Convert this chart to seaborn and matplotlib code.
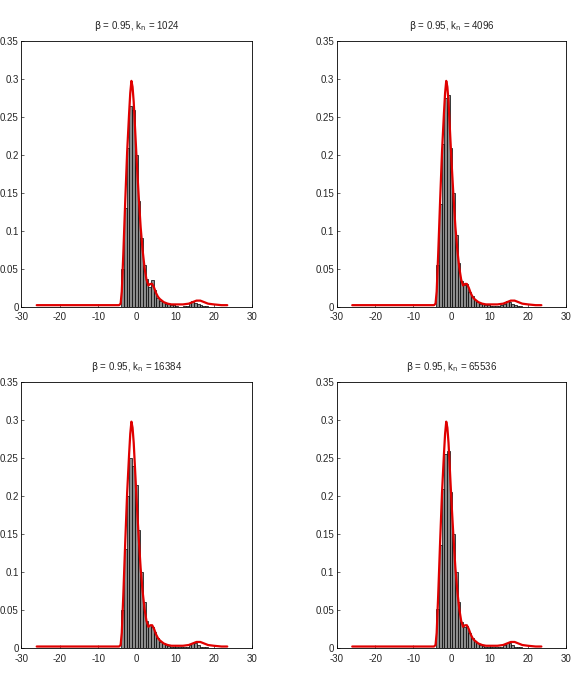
import numpy as np
import seaborn as sns
from matplotlib import pyplot as plt
from matplotlib.ticker import FormatStrFormatter, MultipleLocator

# Panel titles (k_n values)
k_values = [1024, 4096, 16384, 65536]

# Histogram bin centres (bin width 0.7)
bin_width = 0.7
centers = [-3.65, -2.95, -2.25, -1.55, -0.85, -0.15, 0.55, 1.25, 1.95, 2.65,
           3.35, 4.05, 4.75, 5.45, 6.15, 6.85, 7.55, 8.25, 8.95, 9.65,
           10.35, 11.05, 11.75, 12.45, 13.15, 13.85, 14.55, 15.25, 15.95, 16.65,
           17.35, 18.05, 18.75, 19.45]

# Bar heights
hist_1024 = [0.05, 0.13, 0.21, 0.265, 0.26, 0.20, 0.14, 0.09, 0.055, 0.036,
             0.026, 0.035, 0.022, 0.012, 0.008, 0.006, 0.004, 0.003, 0.002, 0.002,
             0.001, 0.0, 0.0, 0.001, 0.001, 0.005, 0.007, 0.005, 0.003, 0.002,
             0.001, 0.001, 0.0, 0.0]
hist_4096 = [0.055, 0.135, 0.215, 0.275, 0.28, 0.21, 0.15, 0.095, 0.058, 0.034,
             0.028, 0.03, 0.02, 0.014, 0.009, 0.006, 0.004, 0.003, 0.002, 0.002,
             0.001, 0.001, 0.001, 0.001, 0.002, 0.004, 0.007, 0.006, 0.004, 0.002,
             0.001, 0.001, 0.0, 0.0]
hist_16384 = [0.05, 0.13, 0.20, 0.25, 0.24, 0.215, 0.155, 0.10, 0.06, 0.035,
              0.03, 0.028, 0.021, 0.013, 0.008, 0.006, 0.004, 0.003, 0.002, 0.002,
              0.001, 0.001, 0.001, 0.001, 0.002, 0.004, 0.007, 0.006, 0.004, 0.002,
              0.001, 0.001, 0.0, 0.0]
hist_65536 = [0.052, 0.135, 0.21, 0.255, 0.26, 0.205, 0.15, 0.10, 0.06, 0.034,
              0.028, 0.029, 0.02, 0.013, 0.009, 0.006, 0.004, 0.003, 0.002, 0.002,
              0.001, 0.001, 0.001, 0.001, 0.002, 0.004, 0.007, 0.006, 0.004, 0.002,
              0.001, 0.001, 0.0, 0.0]
hist_values = [hist_1024, hist_4096, hist_16384, hist_65536]

# Red density curve (same in every panel)
curve_x = [-26, -20, -15, -10, -6, -4.6, -4.2, -3.9, -3.5, -3, -2.5, -2, -1.7, -1.4,
           -1.1, -0.8, -0.5, 0, 0.5, 1, 1.5, 2, 2.5, 3, 3.5, 4, 4.5, 5, 5.5,
           6, 7, 8, 9, 10, 12, 13.5, 14.5, 15.5, 16.5, 17.5, 18.5, 20, 22, 23.5]
curve_y = [0.002, 0.002, 0.002, 0.002, 0.002, 0.002, 0.004, 0.02, 0.07, 0.14, 0.205, 0.255, 0.282, 0.298,
           0.29, 0.27, 0.24, 0.19, 0.145, 0.105, 0.075, 0.052, 0.036, 0.028, 0.03, 0.03, 0.025, 0.018, 0.013,
           0.01, 0.006, 0.004, 0.003, 0.003, 0.003, 0.004, 0.006, 0.008, 0.008, 0.006, 0.004, 0.003, 0.002, 0.002]

sns.set_style('ticks')
plt.rcParams['font.family'] = ['Liberation Sans Narrow', 'Liberation Sans', 'DejaVu Sans']
plt.rcParams['font.size'] = 7
plt.rcParams['xtick.direction'] = 'in'
plt.rcParams['ytick.direction'] = 'in'
plt.rcParams['axes.unicode_minus'] = False
plt.rcParams['mathtext.fontset'] = 'custom'
plt.rcParams['mathtext.rm'] = 'Liberation Sans Narrow'
plt.rcParams['mathtext.it'] = 'Liberation Sans Narrow'

fig = plt.figure(figsize=(5.76, 6.8), dpi=100)
positions = [[0.037, 0.549, 0.401, 0.390],
             [0.585, 0.549, 0.398, 0.390],
             [0.037, 0.047, 0.401, 0.391],
             [0.585, 0.047, 0.398, 0.391]]

edges = [c - bin_width / 2 for c in centers] + [centers[-1] + bin_width / 2]

for pos, k, heights in zip(positions, k_values, hist_values):
    ax = fig.add_axes(pos)
    sns.histplot(x=centers, weights=heights, bins=edges, color='#8c8c8c',
                 edgecolor='black', linewidth=0.5, alpha=1, ax=ax)
    sns.lineplot(x=curve_x, y=curve_y, color='#e00000', linewidth=1.6, ax=ax)
    ax.set_xlim(-30, 30)
    ax.set_ylim(0, 0.35)
    ax.xaxis.set_major_locator(MultipleLocator(10))
    ax.yaxis.set_major_locator(MultipleLocator(0.05))
    ax.yaxis.set_major_formatter(FormatStrFormatter('%g'))
    ax.set_xlabel('')
    ax.set_ylabel('')
    ax.tick_params(length=2.5, width=0.5, labelsize=7)
    ax.tick_params(axis='x', pad=4)
    ax.tick_params(axis='y', pad=2)
    for s in ax.spines.values():
        s.set_visible(True)
        s.set_linewidth(0.6)
        s.set_color('black')
    ax.set_title(r'$\beta$ = 0.95, k$_{\rm n}$ = ' + str(k), fontsize=7, pad=9)

fig.savefig('out.png', dpi=100)
